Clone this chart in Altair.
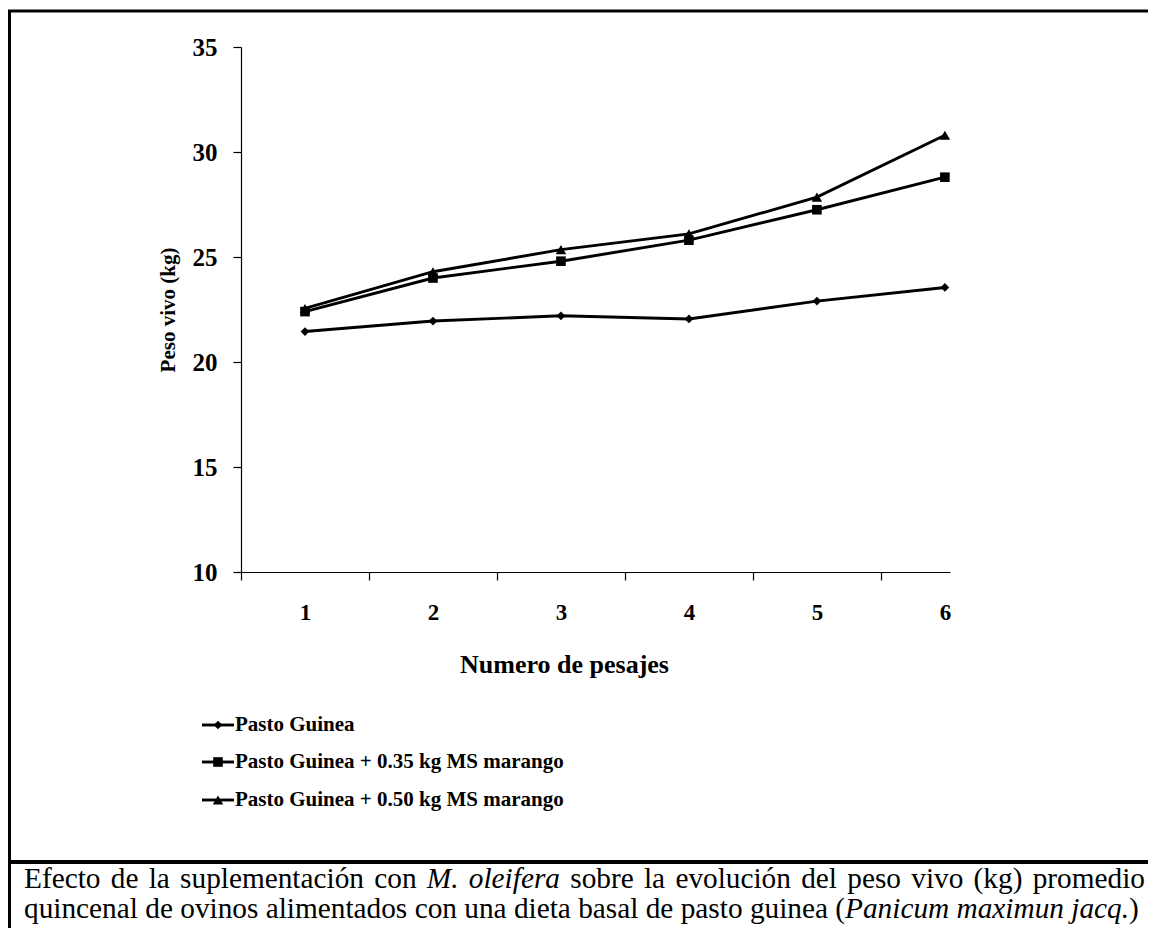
import altair as alt
import pandas as pd

# ---------------- data ----------------
pesajes = [1, 2, 3, 4, 5, 6]
series = [
    "Pasto Guinea",
    "Pasto Guinea + 0.35 kg MS marango",
    "Pasto Guinea + 0.50 kg MS marango",
]
peso_guinea = [21.45, 21.95, 22.2, 22.05, 22.9, 23.55]
peso_035 = [22.4, 24.0, 24.8, 25.8, 27.25, 28.8]
peso_050 = [22.55, 24.3, 25.35, 26.1, 27.85, 30.8]
y_ticks = [10, 15, 20, 25, 30, 35]
shapes = ["diamond", "square", "triangle-up"]
sizes = [75, 110, 95]

x_title = "Numero de pesajes"
y_title = "Peso vivo (kg)"
# caption: (text, italic?) runs, one list per line
cap_line1 = [("Efecto de la suplementación con", False), ("M. oleifera", True),
             ("sobre la evolución del peso vivo (kg) promedio", False)]
cap_line2 = [("quincenal de ovinos alimentados con una dieta basal de pasto guinea (", False),
             ("Panicum maximun jacq.", True), (")", False)]

rows = []
for name, vals in zip(series, [peso_guinea, peso_035, peso_050]):
    for p, v in zip(pesajes, vals):
        rows.append({"serie": name, "pesaje": p, "peso": v})
df = pd.DataFrame(rows)

# ---------------- layout ----------------
W, H = 709, 525
PL, PT = 233, 39          # plot origin at page (241, 47)
OX, OY = 8 + PL, 8 + PT   # page coords of plot origin
FONT = "Liberation Serif"


def px(xp):
    return xp - OX


def py(yp):
    return yp - OY


shape_scale = alt.Scale(domain=series, range=shapes)
size_scale = alt.Scale(domain=series, range=sizes)

x_enc = alt.X(
    "pesaje:Q",
    scale=alt.Scale(domain=[0.5, 6.04], nice=False, zero=False),
    axis=alt.Axis(
        values=pesajes, format="d", tickOffset=-64, labelOffset=64,
        title=x_title, titleX=323, titleY=92, titleBaseline="middle",
        titleAlign="center", titleAnchor="start", titleFontSize=26,
        labelFontSize=23, labelPadding=21,
    ),
)
y_enc = alt.Y(
    "peso:Q",
    scale=alt.Scale(domain=[10, 35], nice=False, zero=False),
    axis=alt.Axis(values=y_ticks, title=y_title, titlePadding=14,
                  titleFontSize=21, labelFontSize=25, labelPadding=16),
)

base = alt.Chart(df)
lines = base.mark_line(color="black", strokeWidth=2.9).encode(
    x=x_enc, y=y_enc, detail="serie:N"
)
points = base.mark_point(filled=True, color="black", opacity=1).encode(
    x="pesaje:Q", y="peso:Q",
    shape=alt.Shape("serie:N", scale=shape_scale, legend=None),
    size=alt.Size("serie:N", scale=size_scale, legend=None),
)

layers = [lines, points]

# ---------------- manual legend ----------------
legend_y = [725, 762, 800]
for name, ly in zip(series, legend_y):
    ld = alt.Chart(pd.DataFrame({"serie": [name]}))
    layers.append(ld.mark_rule(color="black", strokeWidth=2.9).encode(
        x=alt.value(px(202)), x2=alt.value(px(234)), y=alt.value(py(ly))))
    layers.append(ld.mark_point(filled=True, color="black", opacity=1).encode(
        x=alt.value(px(218)), y=alt.value(py(ly)),
        shape=alt.Shape("serie:N", scale=shape_scale, legend=None),
        size=alt.Size("serie:N", scale=size_scale, legend=None)))
    layers.append(ld.mark_text(align="left", baseline="middle", font=FONT,
                               fontSize=21, fontWeight="bold", color="black").encode(
        x=alt.value(px(235)), y=alt.value(py(ly)), text="serie:N"))

# ---------------- frame ----------------
frame = alt.Chart(pd.DataFrame({"k": [0]}))
layers.append(frame.mark_rule(color="black", strokeWidth=3).encode(
    x=alt.value(px(8)), x2=alt.value(px(1160)), y=alt.value(py(11))))
layers.append(frame.mark_rule(color="black", strokeWidth=3).encode(
    x=alt.value(px(9.5)), y=alt.value(py(10)), y2=alt.value(py(930))))
layers.append(frame.mark_rule(color="black", strokeWidth=4).encode(
    x=alt.value(px(8)), x2=alt.value(px(1160)), y=alt.value(py(862))))

# ---------------- caption (justified word layout, Times metrics) ----------------
TR = {" ": 250, "(": 333, ")": 333, ".": 250, "0": 500, "A": 722, "E": 611,
      "M": 889, "P": 556, "a": 444, "b": 500, "c": 444, "d": 500, "e": 444,
      "f": 333, "g": 500, "h": 500, "i": 278, "j": 278, "k": 500, "l": 278,
      "m": 778, "n": 500, "o": 500, "ó": 500, "p": 500, "q": 500, "r": 333,
      "s": 389, "t": 278, "u": 500, "v": 500, "w": 722, "x": 500, "y": 500, "z": 444}
TI = {" ": 250, "(": 333, ")": 333, ".": 250, "M": 833, "P": 611, "a": 500,
      "b": 500, "c": 444, "d": 500, "e": 444, "f": 278, "g": 500, "h": 500,
      "i": 278, "j": 278, "k": 444, "l": 278, "m": 722, "n": 500, "o": 500,
      "p": 500, "q": 500, "r": 389, "s": 389, "t": 278, "u": 500, "v": 444,
      "x": 444, "y": 444, "z": 389}
CAP = 29.3


def wwidth(word, italic):
    tab = TI if italic else TR
    return sum(tab.get(ch, 500) for ch in word) / 1000.0 * CAP


def layout_line(runs, x0, x1, justify):
    tokens = []  # (text, italic, space_before)
    for ri, (txt, it) in enumerate(runs):
        words = txt.split(" ")
        for wi, w in enumerate(words):
            if w == "":
                continue
            if wi == 0 and ri > 0:
                prev_txt = runs[ri - 1][0]
                sp = not (prev_txt.endswith("(") or w.startswith(")"))
            else:
                sp = wi > 0
            tokens.append((w, it, sp if tokens else False))
    nat = sum(wwidth(t, it) for t, it, _ in tokens)
    nsp = sum(1 for _, _, s in tokens if s)
    space = CAP * 0.25
    if justify and nsp:
        space = (x1 - x0 - nat) / nsp
    out, x = [], x0
    for t, it, s in tokens:
        if s:
            x += space
        out.append((t, it, x))
        x += wwidth(t, it)
    return out


cap_words = layout_line(cap_line1, 24, 1145, True) + [None] + layout_line(cap_line2, 24, 1140, False)
yy = 888
for item in cap_words:
    if item is None:
        yy = 918
        continue
    t, it, xx = item
    layers.append(alt.Chart(pd.DataFrame({"t": [t]})).mark_text(
        align="left", baseline="alphabetic", font=FONT, fontSize=CAP,
        fontStyle="italic" if it else "normal", color="black").encode(
        x=alt.value(px(xx)), y=alt.value(py(yy)), text="t:N"))

chart = alt.layer(*layers).properties(
    width=W, height=H,
    autosize=alt.AutoSizeParams(type="none"),
    padding={"left": PL, "top": PT, "right": 1148 - OX - W, "bottom": 920 - PT - H},
    background="white",
).configure_view(stroke=None).configure_axis(
    grid=False, domainColor="black", domainWidth=1.2, tickColor="black",
    tickWidth=1.2, tickSize=8, labelColor="black", titleColor="black",
    labelFont=FONT, titleFont=FONT, labelFontWeight="bold",
    titleFontWeight="bold",
)

chart.save("out.html", embed_options={"renderer": "svg", "actions": False})
